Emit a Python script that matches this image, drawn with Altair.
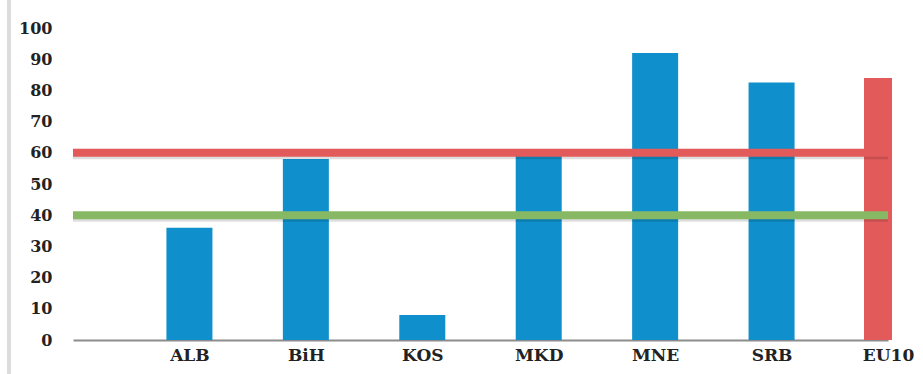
import altair as alt
import pandas as pd

# Country scores (blue bars) and the EU10 benchmark (red bar)
countries = ["ALB", "BiH", "KOS", "MKD", "MNE", "SRB"]
scores = [36, 58, 8, 59, 92, 82.5]
benchmark_label = "EU10"
benchmark_value = 84

# Horizontal reference levels
ref_values = [60, 40]
ref_colors = ["#e35a5a", "#87b965"]

# x positions: a leading blank slot, the countries, then EU10 at the right edge
x_domain = [""] + countries + [benchmark_label]

bars_df = pd.DataFrame({"country": countries, "score": scores})
bench_df = pd.DataFrame({"country": [benchmark_label], "score": [benchmark_value]})
refs_df = pd.DataFrame({"score": ref_values, "color": ref_colors})

FONT = "DejaVu Serif"

x_enc = alt.X(
    "country:N",
    scale=alt.Scale(type="point", domain=x_domain, padding=0),
    sort=None,
    axis=alt.Axis(
        title=None,
        ticks=False,
        tickSize=0,
        labelAngle=0,
        labelPadding=7,
        labelOverlap=False,
        labelFont=FONT,
        labelFontWeight="bold",
        labelFontSize=17,
        labelColor="#222222",
        domainColor="#8c8c8c",
        domainWidth=2,
        grid=False,
    ),
)
y_enc = alt.Y(
    "score:Q",
    scale=alt.Scale(domain=[0, 100], nice=False),
    axis=alt.Axis(
        title=None,
        values=list(range(0, 101, 10)),
        ticks=False,
        tickSize=0,
        domain=False,
        grid=False,
        labelOverlap=False,
        labelPadding=21,
        labelFont=FONT,
        labelFontWeight="bold",
        labelFontSize=16,
        labelColor="#222222",
    ),
)

bars = alt.Chart(bars_df).mark_bar(color="#0f8fcb", size=46).encode(x=x_enc, y=y_enc)

bench = (
    alt.Chart(bench_df)
    .mark_bar(color="#e35a5a", size=28, xOffset=-10)
    .encode(x=x_enc, y=y_enc)
)

# soft drop shadow under each reference line
shadow = (
    alt.Chart(refs_df)
    .mark_rule(strokeWidth=5, color="#000000", opacity=0.13, yOffset=4)
    .encode(y=y_enc)
)

refs = (
    alt.Chart(refs_df)
    .mark_rule(strokeWidth=8)
    .encode(y=y_enc, color=alt.Color("color:N", scale=None))
)

# light frame edge on the left side of the chart area
frame = alt.Chart(bars_df).mark_rule(color="#dcdcdc", strokeWidth=3).encode(
    x=alt.value(-64), y=alt.value(-28), y2=alt.value(346)
)

chart = (
    alt.layer(frame, bars, bench, shadow, refs)
    .properties(
        width=815,
        height=312,
        padding={"left": 73, "top": 28, "right": 35, "bottom": 34},
        autosize=alt.AutoSizeParams(type="none"),
        background="white",
    )
    .configure_view(stroke=None)
)

chart.save("out.html", embed_options={"renderer": "svg", "actions": False})
